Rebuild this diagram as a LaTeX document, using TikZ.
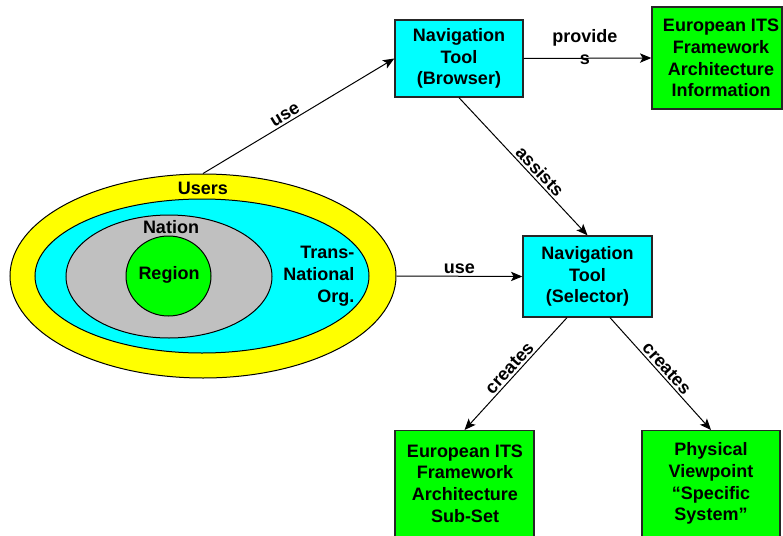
\documentclass[tikz,border=0pt]{standalone}
\usepackage{fontspec}
\setmainfont{Liberation Sans}
\usetikzlibrary{arrows.meta,shapes.geometric}
\definecolor{cyanfill}{RGB}{0,255,255}
\definecolor{greenfill}{RGB}{0,255,0}
\definecolor{yellowfill}{RGB}{255,255,0}
\definecolor{grayfill}{RGB}{192,192,192}
\begin{document}
\begin{tikzpicture}[x=0.75pt,y=-0.75pt,
  lbl/.style={font=\fontsize{13.5}{16.3}\selectfont\bfseries, align=center},
  elbl/.style={lbl, inner sep=1.5pt},
  box/.style={draw=black!85, line width=1pt, inner sep=0pt, lbl},
  conn/.style={line width=0.75pt, -{Stealth[length=8.5pt,width=7pt,inset=2pt]}},
  ell/.style={ellipse, draw=black, line width=0.75pt, inner sep=0pt},
]
\useasboundingbox (0,0) rectangle (783,536);
\clip (0,0) rectangle (783,536);

% nested ellipses
\node[ell, fill=yellowfill, minimum width=289.5pt, minimum height=153pt] (users) at (203,276) {};
\node[ell, fill=cyanfill, minimum width=250.5pt, minimum height=115.5pt] (trans) at (202,276) {};
\node[ell, fill=grayfill, minimum width=154.5pt, minimum height=92.25pt] (nation) at (169,276.5) {};
\node[ell, fill=greenfill, minimum width=63.75pt, minimum height=60pt] (region) at (168.5,276) {};
\node[lbl] (userstxt) at (203,188) {Users};
\node[lbl] (nationtxt) at (171,227) {Nation};
\node[lbl] (regiontxt) at (169,275) {Region};
\node[lbl, align=right, anchor=east] (transtxt) at (359,276) {Trans-\\National\\Org.};

% boxes
\node[box, fill=cyanfill, minimum width=96pt, minimum height=57.75pt] (browser) at (459,58.5) {Navigation\\Tool\\(Browser)};
\node[box, fill=greenfill, minimum width=97.5pt, minimum height=76.5pt] (info) at (717,58) {};
\node[lbl] (infotxt) at (721,58) {European ITS\\Framework\\Architecture\\Information};
\node[box, fill=cyanfill, minimum width=96.75pt, minimum height=60.75pt] (sel) at (587.5,276.5) {Navigation\\Tool\\(Selector)};
\node[box, fill=greenfill, minimum width=104.25pt, minimum height=97.5pt, anchor=north] (subset) at (464.5,430) {};
\node[lbl] (subsettxt) at (465,483.5) {European ITS\\Framework\\Architecture\\Sub-Set};
\node[box, fill=greenfill, minimum width=103.5pt, minimum height=97.5pt, anchor=north] (phys) at (711,430) {};
\node[lbl] (phystxt) at (711,483.5) {Physical\\Viewpoint\\``Specific\\System''};

% connectors
\draw[conn] (users.north) -- node[elbl, sloped, above, pos=0.45] {use} (browser.west);
\draw[conn] (users.east) -- node[elbl, above, pos=0.5] {use} (sel.west);
\draw[conn] (browser.east) -- node[lbl, pos=0.48, yshift=8.5pt] {provide\\s} (info.west);
\draw[conn] (browser.south) -- node[elbl, sloped, above, pos=0.58] {assists} (sel.north);
\draw[conn] ([xshift=-15.4pt]sel.south) -- node[elbl, sloped, above, pos=0.5] {creates} (subset.north);
\draw[conn] ([xshift=16.9pt]sel.south) -- node[elbl, sloped, above, pos=0.5] {creates} (phys.north);
\end{tikzpicture}
\end{document}
